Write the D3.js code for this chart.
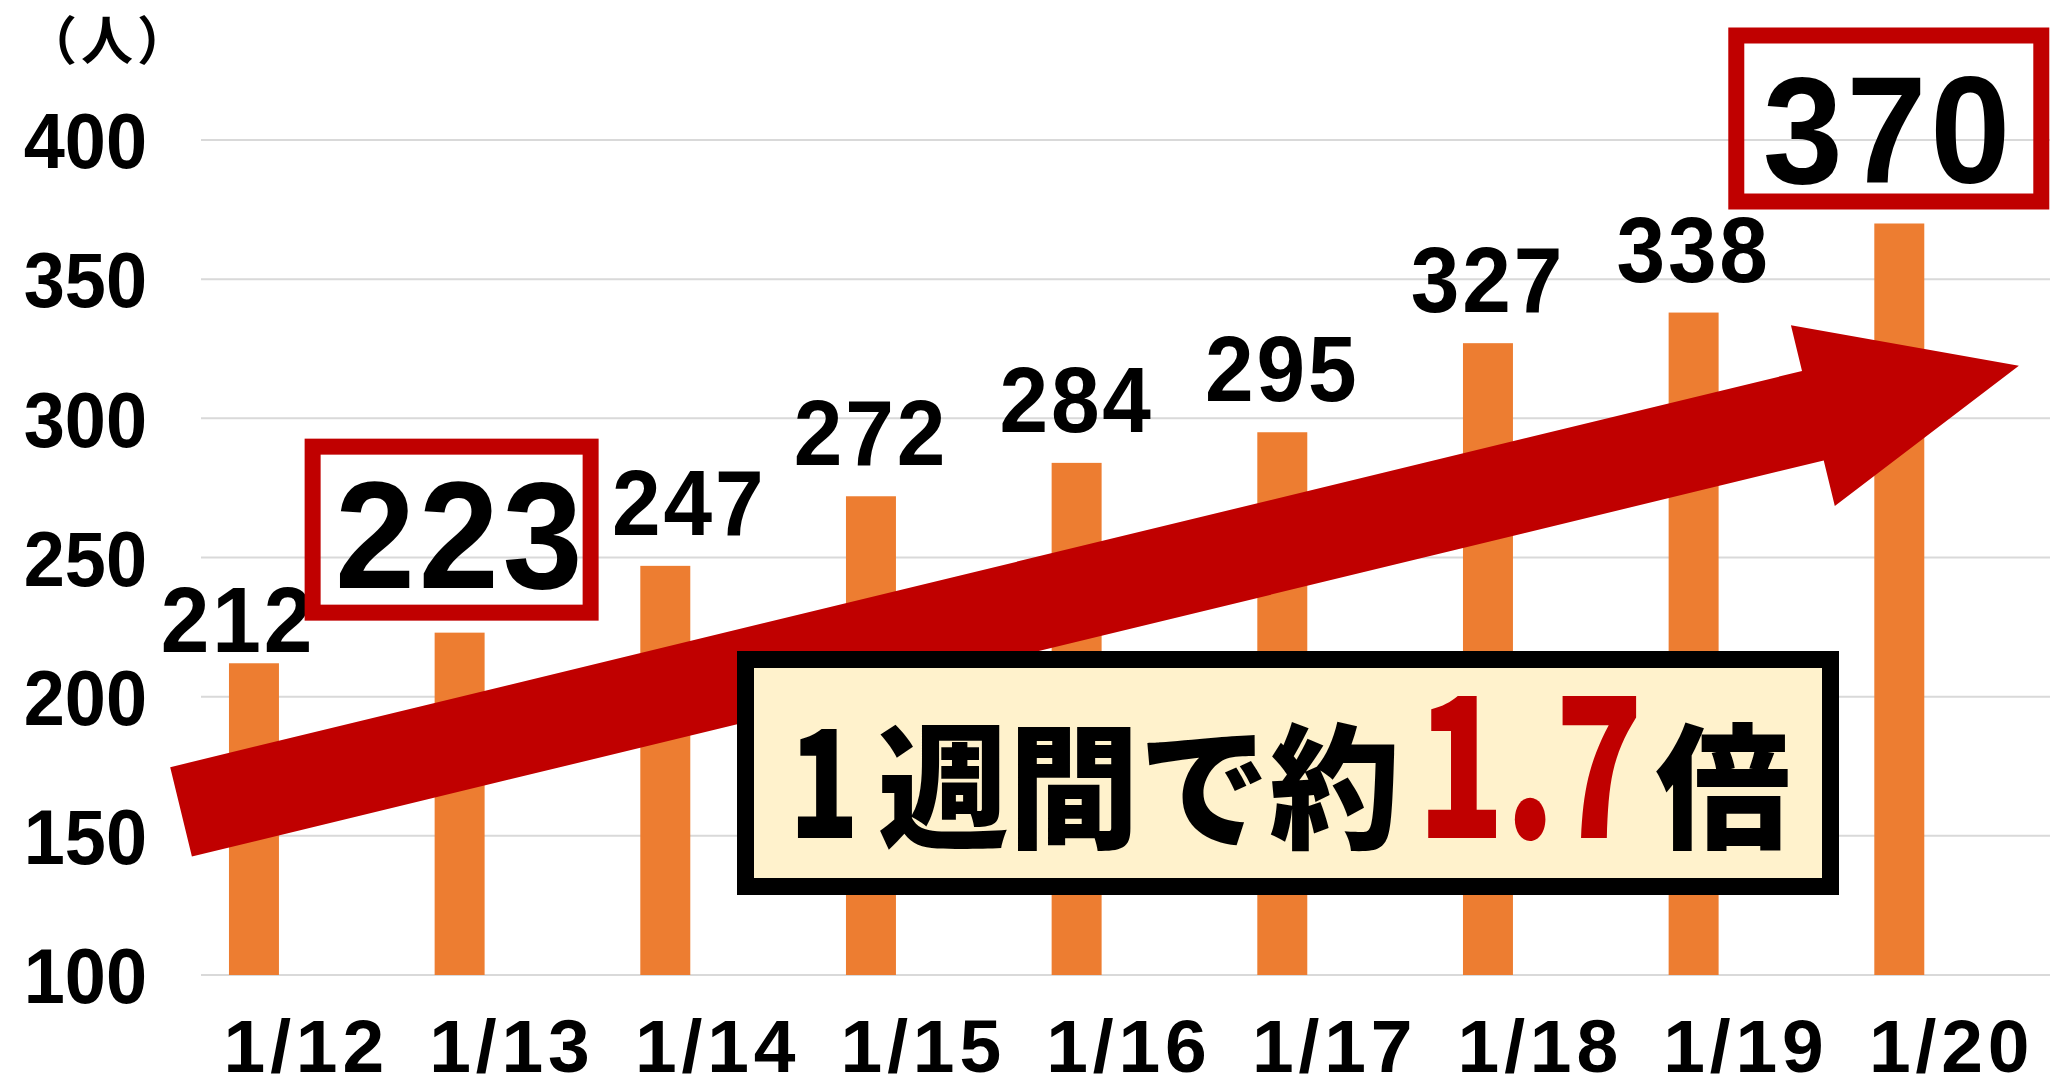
<!DOCTYPE html>
<html><head><meta charset="utf-8">
<script src="https://cdn.jsdelivr.net/npm/d3@7"></script>
<style>html,body{margin:0;padding:0;background:#fff;overflow:hidden}</style>
</head><body>
<svg id="chart" width="2050" height="1083"></svg>
<script>
// ---------- data ----------
const categories = ["1/12","1/13","1/14","1/15","1/16","1/17","1/18","1/19","1/20"];
const values = [212,223,247,272,284,295,327,338,370];
const yTicks = [100,150,200,250,300,350,400];
const unitLabel = "（人）";
const highlighted = ["1/13","1/20"];
const calloutTexts = ["1","週間で約","1.7","倍"];

// ---------- layout / style ----------
const W = 2050, H = 1083;
const plot = {left: 201, right: 2052, top: 140, bottom: 975};
const numFont = "'Liberation Sans', Arial, sans-serif";
const jpFont = "'Noto Sans CJK JP', sans-serif";
const barColor = "#ED7D31", gridColor = "#D9D9D9", red = "#C00000";
const squeeze = 0.96;

const svg = d3.select("#chart");
const x = d3.scaleBand().domain(categories).range([plot.left, plot.right]).padding(0);
const y = d3.scaleLinear().domain([100, 400]).range([plot.bottom, plot.top]);
const step = x.step();
const barOff = step * 0.136, barW = step * 0.243;
const barCenter = c => x(c) + barOff + barW / 2;
const xFrac = d3.scaleLinear().domain([0, categories.length]).range([plot.left, plot.right]);

function squeezeText(sel, f) {
  sel.each(function(){ const l = this.getComputedTextLength(); d3.select(this).attr("textLength", l * f).attr("lengthAdjust", "spacingAndGlyphs"); });
}

// gridlines
svg.append("g").selectAll("line").data(yTicks).join("line")
  .attr("x1", plot.left).attr("x2", W)
  .attr("y1", d => y(d)).attr("y2", d => y(d))
  .attr("stroke", gridColor).attr("stroke-width", 2);

// y axis labels
const yAxis = svg.append("g").attr("transform", `translate(${plot.left},0)`)
  .call(d3.axisLeft(y).tickValues(yTicks).tickSize(0).tickPadding(54));
yAxis.select(".domain").remove();
yAxis.selectAll("text").attr("font-family", numFont).attr("font-weight", "bold")
  .attr("font-size", 77).attr("fill", "#000").attr("dy", "0.36em").call(squeezeText, squeeze);

// x axis labels
const xAxis = svg.append("g").attr("transform", `translate(0,${plot.bottom})`)
  .call(d3.axisBottom(x).tickSize(0).tickPadding(44));
xAxis.select(".domain").remove();
xAxis.selectAll("text").attr("font-family", numFont).attr("font-weight", "bold")
  .attr("font-size", 75).attr("fill", "#000")
  .each(function(){ const l = this.getComputedTextLength(); d3.select(this).attr("textLength", l * 1.1).attr("lengthAdjust", "spacing"); });

// unit label
svg.append("text").attr("x", 109).attr("y", 60).attr("text-anchor", "middle")
  .attr("font-family", jpFont).attr("font-weight", 700).attr("font-size", 52)
  .attr("letter-spacing", 4).text(unitLabel);

// bars
const data = categories.map((c, i) => ({c, v: values[i]}));
svg.append("g").selectAll("rect").data(data).join("rect")
  .attr("x", d => x(d.c) + barOff).attr("width", barW)
  .attr("y", d => y(d.v)).attr("height", d => y(100) - y(d.v))
  .attr("fill", barColor);

// normal value labels
const nudges = {"1/12": {dx: -16, dy: 20}, "1/14": {dx: 24, dy: 0}};
svg.append("g").selectAll("text").data(data.filter(d => !highlighted.includes(d.c))).join("text")
  .attr("x", d => barCenter(d.c) + (nudges[d.c] ? nudges[d.c].dx : 0))
  .attr("y", d => y(d.v) - 31 + (nudges[d.c] ? nudges[d.c].dy : 0))
  .attr("text-anchor", "middle").attr("font-family", numFont).attr("font-weight", "bold")
  .attr("font-size", 92).attr("fill", "#000").attr("letter-spacing", 3)
  .text(d => d.v).call(squeezeText, 0.95);

// arrow (annotation in data space)
const arrow = {from: [-0.097, 158.6], to: [8.839, 318.9], shaft: 92, headW: 186, headL: 212};
(function drawArrow(){
  const p0 = [xFrac(arrow.from[0]), y(arrow.from[1])];
  const p1 = [xFrac(arrow.to[0]), y(arrow.to[1])];
  const dx = p1[0]-p0[0], dy = p1[1]-p0[1], L = Math.hypot(dx, dy);
  const u = [dx/L, dy/L], n = [-u[1], u[0]];
  const hb = [p1[0]-u[0]*arrow.headL, p1[1]-u[1]*arrow.headL];
  const off = (p, k) => [p[0]+n[0]*k, p[1]+n[1]*k];
  const pts = [off(p0, -arrow.shaft/2), off(hb, -arrow.shaft/2), off(hb, -arrow.headW/2), p1,
               off(hb, arrow.headW/2), off(hb, arrow.shaft/2), off(p0, arrow.shaft/2)];
  svg.append("path").attr("d", d3.line()(pts) + "Z").attr("fill", red);
})();

// highlighted labels with red boxes
const hl = {"1/13": {dx: 1, dy: -45, box: [-155, 139, -194, -12]},
            "1/20": {dx: -11, dy: -41, box: [-171, 150, -196, -14]}};
const hlData = data.filter(d => highlighted.includes(d.c));
const hg = svg.append("g").selectAll("g").data(hlData).join("g");
hg.append("rect")
  .attr("x", d => barCenter(d.c) + hl[d.c].box[0] + 8)
  .attr("width", d => hl[d.c].box[1] - hl[d.c].box[0] - 16)
  .attr("y", d => y(d.v) + hl[d.c].box[2] + 8)
  .attr("height", d => hl[d.c].box[3] - hl[d.c].box[2] - 16)
  .attr("fill", "none").attr("stroke", red).attr("stroke-width", 16);
hg.append("text")
  .attr("x", d => barCenter(d.c) + hl[d.c].dx).attr("y", d => y(d.v) + hl[d.c].dy)
  .attr("text-anchor", "middle").attr("font-family", numFont).attr("font-weight", "bold")
  .attr("font-size", 153).attr("fill", "#000").attr("letter-spacing", 4)
  .text(d => d.v).call(squeezeText, 0.94);

// callout box
const callout = {x0: 737, x1: 1839, y0: 651, y1: 895, stroke: 17, baseline: 838};
svg.append("rect")
  .attr("x", callout.x0 + callout.stroke/2).attr("y", callout.y0 + callout.stroke/2)
  .attr("width", callout.x1 - callout.x0 - callout.stroke)
  .attr("height", callout.y1 - callout.y0 - callout.stroke)
  .attr("fill", "#FFF2CC").attr("stroke", "#000").attr("stroke-width", callout.stroke);
const calloutStyle = [
  {color: "#000", size: 150, cx: 824, len: 70},
  {color: "#000", size: 135, cx: 1139, len: 522},
  {color: red, size: 196, cx: 1530, len: 226},
  {color: "#000", size: 135, cx: 1723, len: null}
];
calloutTexts.forEach((t, i) => {
  const s = calloutStyle[i];
  const el = svg.append("text").attr("y", callout.baseline)
    .attr("font-family", jpFont).attr("font-weight", 900).attr("font-size", s.size)
    .attr("fill", s.color).text(t);
  if (s.len) {
    el.attr("x", s.cx - s.len/2).attr("textLength", s.len).attr("lengthAdjust", "spacingAndGlyphs");
  } else {
    el.attr("x", s.cx).attr("text-anchor", "middle");
  }
});
</script>
</body></html>
